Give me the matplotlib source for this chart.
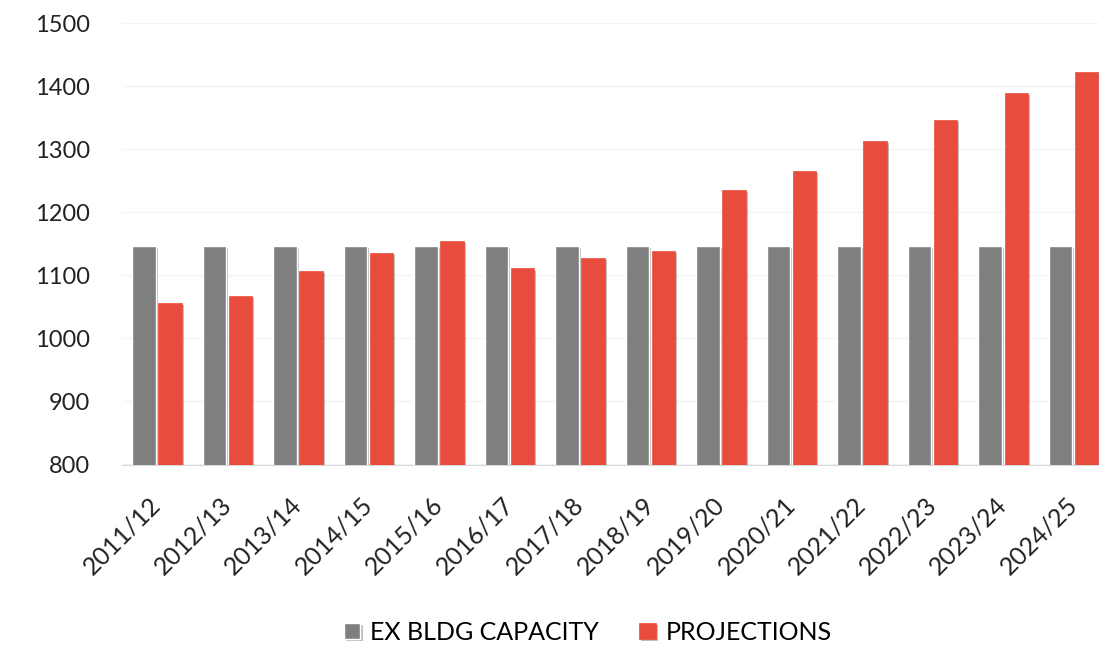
import numpy as np
import matplotlib.pyplot as plt
import matplotlib.patheffects as pe

# data
years = ['2011/12', '2012/13', '2013/14', '2014/15', '2015/16', '2016/17', '2017/18',
         '2018/19', '2019/20', '2020/21', '2021/22', '2022/23', '2023/24', '2024/25']
capacity = [1147] * 14
projections = [1056, 1067, 1107, 1135, 1155, 1111, 1128,
               1139, 1235, 1266, 1313, 1347, 1390, 1422]

gray = '#7f7f7f'
red = '#e74c3c'

plt.rcParams['font.family'] = ['Lato', 'DejaVu Sans']

fig = plt.figure(figsize=(10.99, 6.49), dpi=100)
ax = fig.add_axes([121.7 / 1099, 1 - 464.5 / 649, 1 - 121.7 / 1099, (464.5 - 23.3) / 649])

x = np.arange(len(years))
w = 0.33
shadow = [pe.SimplePatchShadow(offset=(1.5, -1.5), alpha=0.3), pe.Normal()]

b1 = ax.bar(x - 0.185, capacity, w, color=gray, edgecolor='white',
            linewidth=1.0, label='EX BLDG CAPACITY', zorder=3)
b2 = ax.bar(x + 0.185, projections, w, color=red, edgecolor=red,
            linewidth=0.5, label='PROJECTIONS', zorder=3)
for b in list(b1) + list(b2):
    b.set_path_effects(shadow)

ax.set_ylim(800, 1500)
ax.set_xlim(-0.5, 13.36)
ax.set_yticks(np.arange(800, 1501, 100))
ax.set_xticks(x)
ax.set_xticklabels(years, rotation=45, ha='right', va='center', rotation_mode='anchor')

ax.tick_params(axis='y', length=0, pad=23, labelsize=17, labelcolor='#222222')
ax.tick_params(axis='x', length=0, pad=26, labelsize=18, labelcolor='#222222')

ax.grid(axis='y', color='#f3f3f3', linewidth=1, zorder=0)
for s in ['top', 'right', 'left']:
    ax.spines[s].set_visible(False)
ax.spines['bottom'].set_color('#d9d9d9')

fig.legend(handles=[b1, b2], loc='center', bbox_to_anchor=(0.535, 0.026),
           ncol=2, frameon=False, fontsize=18, handlelength=0.65, handleheight=0.65,
           columnspacing=1.6, handletextpad=0.4)

fig.savefig('out.png', dpi=100)
